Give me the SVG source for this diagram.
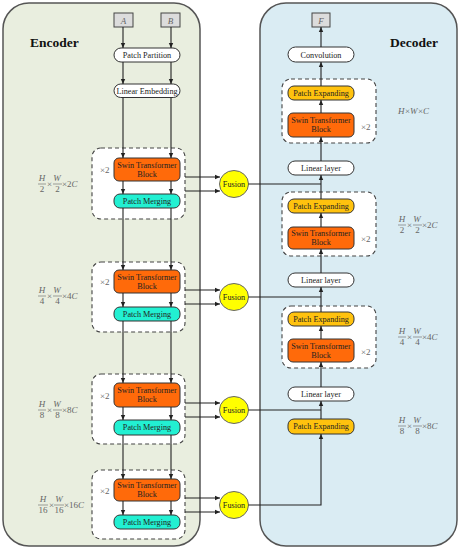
<svg xmlns="http://www.w3.org/2000/svg" width="460" height="550" viewBox="0 0 460 550">
<style>
text{font-family:"Liberation Serif","Times New Roman",serif;}
.t{font-size:8.2px;fill:#222;text-anchor:middle;}
.title{font-size:13.5px;font-weight:bold;fill:#111;}
.m{font-size:9px;fill:#666;font-style:italic;}
.mn{font-size:9px;fill:#666;}
.x2{font-size:9px;fill:#666;}
.pill{fill:#fff;stroke:#333;stroke-width:1;}
.swin{fill:#ff6a0a;stroke:#333;stroke-width:1;}
.pm{fill:#22f0d2;stroke:#333;stroke-width:1;}
.pe{fill:#ffc20e;stroke:#333;stroke-width:1;}
.dash{fill:#fff;stroke:#444;stroke-width:1.1;stroke-dasharray:4 3;}
.in{fill:#dcdcdc;stroke:#444;stroke-width:1;}
.fus{fill:#ffff00;stroke:#666;stroke-width:1;}
.c{fill:none;stroke:#222;stroke-width:1.1;}
.bar{stroke:#666;stroke-width:0.6;}
</style>
<defs>
<marker id="ah" markerWidth="6" markerHeight="6" refX="5" refY="3" orient="auto" markerUnits="userSpaceOnUse">
<path d="M0,0.8 L5,3 L0,5.2 z" fill="#222"/>
</marker>
</defs>
<rect width="460" height="550" fill="#fff"/>
<g id="encoder-panel">
<rect x="3" y="3" width="197" height="543" rx="26" fill="#e9eedf" stroke="#555" stroke-width="1.5"/>
<text class="title" x="30" y="47">Encoder</text>
</g>
<g id="decoder-panel">
<rect x="260" y="3" width="197" height="543" rx="26" fill="#daecf3" stroke="#555" stroke-width="1.5"/>
<text class="title" x="390" y="47">Decoder</text>
</g>

<!-- encoder nodes -->
<g id="inA"><rect class="in" x="114" y="13" width="19" height="14"/><text class="m" x="123.5" y="23.5" text-anchor="middle">A</text></g>
<g id="inB"><rect class="in" x="161" y="13" width="19" height="14"/><text class="m" x="170.5" y="23.5" text-anchor="middle">B</text></g>
<g id="patch-partition"><rect class="pill" x="114" y="48" width="66" height="14" rx="7"/><text class="t" x="147" y="58">Patch Partition</text></g>
<g id="linear-embedding"><rect class="pill" x="114" y="84" width="66" height="13.5" rx="6.75"/><text class="t" x="147" y="93.8">Linear Embedding</text></g>

<g id="enc-stage1">
<rect class="dash" x="92" y="148" width="93" height="71" rx="9"/>
<rect class="swin" x="114" y="158" width="66" height="23" rx="5"/>
<text class="t" x="147" y="167.5">Swin Transformer</text><text class="t" x="147" y="176.5">Block</text>
<rect class="pm" x="114" y="194" width="66" height="14" rx="6"/>
<text class="t" x="147" y="203.8">Patch Merging</text>
<text class="x2" x="100" y="173">×2</text>
</g>
<g id="enc-stage2">
<rect class="dash" x="92" y="262" width="93" height="70" rx="9"/>
<rect class="swin" x="114" y="270" width="66" height="23" rx="5"/>
<text class="t" x="147" y="279.5">Swin Transformer</text><text class="t" x="147" y="288.5">Block</text>
<rect class="pm" x="114" y="307" width="66" height="14" rx="6"/>
<text class="t" x="147" y="316.8">Patch Merging</text>
<text class="x2" x="100" y="285">×2</text>
</g>
<g id="enc-stage3">
<rect class="dash" x="92" y="374" width="93" height="70" rx="9"/>
<rect class="swin" x="114" y="383" width="66" height="24" rx="5"/>
<text class="t" x="147" y="393">Swin Transformer</text><text class="t" x="147" y="402">Block</text>
<rect class="pm" x="114" y="420" width="66" height="15" rx="6"/>
<text class="t" x="147" y="430.3">Patch Merging</text>
<text class="x2" x="100" y="399">×2</text>
</g>
<g id="enc-stage4">
<rect class="dash" x="92" y="470" width="93" height="69" rx="9"/>
<rect class="swin" x="114" y="479" width="66" height="22" rx="5"/>
<text class="t" x="147" y="488">Swin Transformer</text><text class="t" x="147" y="497">Block</text>
<rect class="pm" x="114" y="515" width="66" height="14" rx="6"/>
<text class="t" x="147" y="524.8">Patch Merging</text>
<text class="x2" x="100" y="494">×2</text>
</g>

<!-- encoder dims -->
<g id="dim-enc1">
<text class="m" x="42" y="181" text-anchor="middle">H</text><line class="bar" x1="38" y1="184" x2="46" y2="184"/><text class="mn" x="42" y="192" text-anchor="middle">2</text>
<text class="mn" x="47" y="187">×</text>
<text class="m" x="57" y="181" text-anchor="middle">W</text><line class="bar" x1="53" y1="184" x2="62" y2="184"/><text class="mn" x="57.5" y="192" text-anchor="middle">2</text>
<text class="mn" x="62" y="187">×</text><text class="mn" x="67" y="187">2</text><text class="m" x="71.5" y="187">C</text>
</g>
<g id="dim-enc2">
<text class="m" x="42" y="293" text-anchor="middle">H</text><line class="bar" x1="38" y1="296" x2="46" y2="296"/><text class="mn" x="42" y="304" text-anchor="middle">4</text>
<text class="mn" x="47" y="299">×</text>
<text class="m" x="57" y="293" text-anchor="middle">W</text><line class="bar" x1="53" y1="296" x2="62" y2="296"/><text class="mn" x="57.5" y="304" text-anchor="middle">4</text>
<text class="mn" x="62" y="299">×</text><text class="mn" x="67" y="299">4</text><text class="m" x="71.5" y="299">C</text>
</g>
<g id="dim-enc3">
<text class="m" x="42" y="407" text-anchor="middle">H</text><line class="bar" x1="38" y1="410" x2="46" y2="410"/><text class="mn" x="42" y="418" text-anchor="middle">8</text>
<text class="mn" x="47" y="413">×</text>
<text class="m" x="57" y="407" text-anchor="middle">W</text><line class="bar" x1="53" y1="410" x2="62" y2="410"/><text class="mn" x="57.5" y="418" text-anchor="middle">8</text>
<text class="mn" x="62" y="413">×</text><text class="mn" x="67" y="413">8</text><text class="m" x="71.5" y="413">C</text>
</g>
<g id="dim-enc4">
<text class="m" x="43" y="502" text-anchor="middle">H</text><line class="bar" x1="38" y1="505" x2="48" y2="505"/><text class="mn" x="43" y="513" text-anchor="middle">16</text>
<text class="mn" x="49" y="508">×</text>
<text class="m" x="59" y="502" text-anchor="middle">W</text><line class="bar" x1="54" y1="505" x2="64" y2="505"/><text class="mn" x="59" y="513" text-anchor="middle">16</text>
<text class="mn" x="64" y="508">×</text><text class="mn" x="69" y="508">16</text><text class="m" x="78" y="508">C</text>
</g>

<!-- fusion nodes -->
<g id="fusion1"><ellipse class="fus" cx="234" cy="184" rx="14.5" ry="13.5"/><text class="t" x="234" y="187">Fusion</text></g>
<g id="fusion2"><ellipse class="fus" cx="234" cy="297" rx="14.5" ry="13.5"/><text class="t" x="234" y="300">Fusion</text></g>
<g id="fusion3"><ellipse class="fus" cx="234" cy="410" rx="14.5" ry="13.5"/><text class="t" x="234" y="413">Fusion</text></g>
<g id="fusion4"><ellipse class="fus" cx="234" cy="505" rx="14.5" ry="13.5"/><text class="t" x="234" y="508">Fusion</text></g>

<!-- decoder nodes -->
<g id="outF"><rect class="in" x="312" y="13" width="18" height="14"/><text class="m" x="321" y="23.5" text-anchor="middle">F</text></g>
<g id="convolution"><rect class="pill" x="288" y="47" width="66" height="15" rx="7.5"/><text class="t" x="321" y="57.5">Convolution</text></g>
<g id="dec-stage1">
<rect class="dash" x="282" y="79" width="94" height="64" rx="9"/>
<rect class="pe" x="288" y="86" width="66" height="14" rx="6"/>
<text class="t" x="321" y="95.8">Patch Expanding</text>
<rect class="swin" x="288" y="113" width="66" height="24" rx="5"/>
<text class="t" x="321" y="123">Swin Transformer</text><text class="t" x="321" y="132">Block</text>
<text class="x2" x="361" y="130">×2</text>
</g>
<g id="linear-layer1"><rect class="pill" x="288" y="161" width="66" height="14" rx="7"/><text class="t" x="321" y="170.8">Linear layer</text></g>
<g id="dec-stage2">
<rect class="dash" x="282" y="192" width="94" height="64" rx="9"/>
<rect class="pe" x="288" y="199" width="66" height="14" rx="6"/>
<text class="t" x="321" y="208.8">Patch Expanding</text>
<rect class="swin" x="288" y="227" width="66" height="22" rx="5"/>
<text class="t" x="321" y="236">Swin Transformer</text><text class="t" x="321" y="245">Block</text>
<text class="x2" x="361" y="242">×2</text>
</g>
<g id="linear-layer2"><rect class="pill" x="288" y="273" width="66" height="14" rx="7"/><text class="t" x="321" y="282.8">Linear layer</text></g>
<g id="dec-stage3">
<rect class="dash" x="282" y="306" width="94" height="62" rx="9"/>
<rect class="pe" x="288" y="312" width="66" height="14" rx="6"/>
<text class="t" x="321" y="321.8">Patch Expanding</text>
<rect class="swin" x="288" y="339" width="66" height="23" rx="5"/>
<text class="t" x="321" y="348.5">Swin Transformer</text><text class="t" x="321" y="357.5">Block</text>
<text class="x2" x="361" y="355">×2</text>
</g>
<g id="linear-layer3"><rect class="pill" x="288" y="387" width="66" height="14" rx="7"/><text class="t" x="321" y="396.8">Linear layer</text></g>
<g id="patch-expanding-last"><rect class="pe" x="288" y="419" width="66" height="15" rx="6"/><text class="t" x="321" y="429.3">Patch Expanding</text></g>

<!-- decoder dims -->
<g id="dim-dec1">
<text class="m" x="398" y="114">H</text><text class="mn" x="405" y="114">×</text><text class="m" x="410" y="114">W</text><text class="mn" x="418" y="114">×</text><text class="m" x="423" y="114">C</text>
</g>
<g id="dim-dec2">
<text class="m" x="402" y="222" text-anchor="middle">H</text><line class="bar" x1="398" y1="225" x2="406" y2="225"/><text class="mn" x="402" y="233" text-anchor="middle">2</text>
<text class="mn" x="407" y="228">×</text>
<text class="m" x="417" y="222" text-anchor="middle">W</text><line class="bar" x1="413" y1="225" x2="422" y2="225"/><text class="mn" x="417.5" y="233" text-anchor="middle">2</text>
<text class="mn" x="422" y="228">×</text><text class="mn" x="427" y="228">2</text><text class="m" x="431.5" y="228">C</text>
</g>
<g id="dim-dec3">
<text class="m" x="402" y="334" text-anchor="middle">H</text><line class="bar" x1="398" y1="337" x2="406" y2="337"/><text class="mn" x="402" y="345" text-anchor="middle">4</text>
<text class="mn" x="407" y="340">×</text>
<text class="m" x="417" y="334" text-anchor="middle">W</text><line class="bar" x1="413" y1="337" x2="422" y2="337"/><text class="mn" x="417.5" y="345" text-anchor="middle">4</text>
<text class="mn" x="422" y="340">×</text><text class="mn" x="427" y="340">4</text><text class="m" x="431.5" y="340">C</text>
</g>
<g id="dim-dec4">
<text class="m" x="402" y="423" text-anchor="middle">H</text><line class="bar" x1="398" y1="426" x2="406" y2="426"/><text class="mn" x="402" y="434" text-anchor="middle">8</text>
<text class="mn" x="407" y="429">×</text>
<text class="m" x="417" y="423" text-anchor="middle">W</text><line class="bar" x1="413" y1="426" x2="422" y2="426"/><text class="mn" x="417.5" y="434" text-anchor="middle">8</text>
<text class="mn" x="422" y="429">×</text><text class="mn" x="427" y="429">8</text><text class="m" x="431.5" y="429">C</text>
</g>

<!-- connectors -->
<g id="connectors" class="c">
<!-- encoder verticals -->
<path class="c" marker-end="url(#ah)" d="M123,27 V48"/>
<path class="c" marker-end="url(#ah)" d="M171,27 V48"/>
<path class="c" marker-end="url(#ah)" d="M123,62 V84"/>
<path class="c" marker-end="url(#ah)" d="M171,62 V84"/>
<path class="c" marker-end="url(#ah)" d="M123,97.5 V158"/>
<path class="c" marker-end="url(#ah)" d="M171,97.5 V158"/>
<path class="c" marker-end="url(#ah)" d="M123,181 V194"/>
<path class="c" marker-end="url(#ah)" d="M171,181 V194"/>
<path class="c" marker-end="url(#ah)" d="M123,208 V270"/>
<path class="c" marker-end="url(#ah)" d="M171,208 V270"/>
<path class="c" marker-end="url(#ah)" d="M123,293 V307"/>
<path class="c" marker-end="url(#ah)" d="M171,293 V307"/>
<path class="c" marker-end="url(#ah)" d="M123,321 V383"/>
<path class="c" marker-end="url(#ah)" d="M171,321 V383"/>
<path class="c" marker-end="url(#ah)" d="M123,407 V420"/>
<path class="c" marker-end="url(#ah)" d="M171,407 V420"/>
<path class="c" marker-end="url(#ah)" d="M123,435 V479"/>
<path class="c" marker-end="url(#ah)" d="M171,435 V479"/>
<path class="c" marker-end="url(#ah)" d="M123,501 V515"/>
<path class="c" marker-end="url(#ah)" d="M171,501 V515"/>
<!-- encoder to fusion -->
<path class="c" marker-end="url(#ah)" d="M185,177 H220"/>
<path class="c" marker-end="url(#ah)" d="M185,191 H220"/>
<path class="c" marker-end="url(#ah)" d="M185,290 H220"/>
<path class="c" marker-end="url(#ah)" d="M185,304 H220"/>
<path class="c" marker-end="url(#ah)" d="M185,403 H220"/>
<path class="c" marker-end="url(#ah)" d="M185,417 H220"/>
<path class="c" marker-end="url(#ah)" d="M185,498 H220"/>
<path class="c" marker-end="url(#ah)" d="M185,512 H220"/>
<!-- fusion to decoder -->
<path class="c" d="M248.5,184 H321"/>
<path class="c" d="M248.5,297 H321"/>
<path class="c" d="M248.5,410 H321"/>
<path class="c" marker-end="url(#ah)" d="M248.5,505 H321 V434"/>
<!-- decoder verticals -->
<path class="c" marker-end="url(#ah)" d="M321,419 V401"/>
<path class="c" marker-end="url(#ah)" d="M321,387 V362"/>
<path class="c" marker-end="url(#ah)" d="M321,339 V326"/>
<path class="c" marker-end="url(#ah)" d="M321,312 V287"/>
<path class="c" marker-end="url(#ah)" d="M321,273 V249"/>
<path class="c" marker-end="url(#ah)" d="M321,227 V213"/>
<path class="c" marker-end="url(#ah)" d="M321,199 V175"/>
<path class="c" marker-end="url(#ah)" d="M321,161 V137"/>
<path class="c" marker-end="url(#ah)" d="M321,113 V100"/>
<path class="c" marker-end="url(#ah)" d="M321,86 V62"/>
<path class="c" marker-end="url(#ah)" d="M321,47 V27"/>
</g>
</svg>
